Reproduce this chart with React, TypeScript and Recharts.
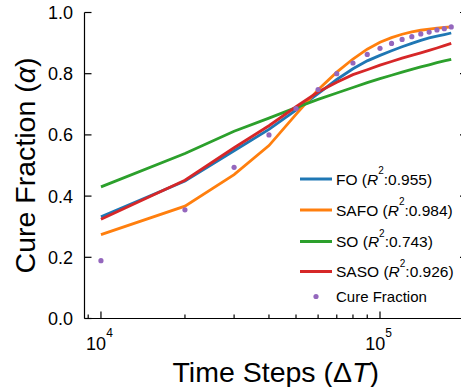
import React from 'react';
import { LineChart, Line, XAxis, YAxis, Legend } from 'recharts';

const timeSteps = [10000, 20000, 30000, 40000, 50000, 60000, 70000, 80000, 90000, 100000, 110000, 120000, 130000, 140000, 150000, 160000, 170000, 180000];
const foValues = [0.332, 0.449, 0.548, 0.618, 0.681, 0.735, 0.781, 0.816, 0.842, 0.860, 0.875, 0.888, 0.899, 0.909, 0.917, 0.923, 0.928, 0.933];
const safoValues = [0.274, 0.367, 0.470, 0.565, 0.667, 0.748, 0.805, 0.848, 0.880, 0.903, 0.918, 0.929, 0.937, 0.942, 0.946, 0.949, 0.951, 0.953];
const soValues = [0.430, 0.539, 0.612, 0.655, 0.689, 0.716, 0.737, 0.755, 0.771, 0.784, 0.795, 0.805, 0.814, 0.822, 0.829, 0.836, 0.842, 0.847];
const sasoValues = [0.324, 0.452, 0.558, 0.630, 0.692, 0.740, 0.772, 0.797, 0.813, 0.828, 0.840, 0.851, 0.860, 0.868, 0.876, 0.884, 0.892, 0.899];
const cureValues = [0.189, 0.355, 0.494, 0.600, 0.686, 0.748, 0.800, 0.835, 0.863, 0.883, 0.899, 0.912, 0.921, 0.930, 0.936, 0.943, 0.947, 0.953];

const xTicks = [9000, 10000, 20000, 30000, 40000, 50000, 60000, 70000, 80000, 90000, 100000];
const xMajorTicks = [10000, 100000];
const yTicks = [0, 0.2, 0.4, 0.6, 0.8, 1.0];

const seriesNames = ['FO', 'SAFO', 'SO', 'SASO'];
const seriesR2 = ['0.955', '0.984', '0.743', '0.926'];
const seriesKeys = ['fo', 'safo', 'so', 'saso'];
const seriesColors = ['#1f77b4', '#ff7f0e', '#2ca02c', '#d62728'];
const cureLabel = 'Cure Fraction';
const cureColor = '#9467bd';

const data = timeSteps.map((t, i) => ({
  t,
  fo: foValues[i],
  safo: safoValues[i],
  so: soValues[i],
  saso: sasoValues[i],
  cure: cureValues[i],
}));

const FONT = '"Liberation Sans", Arial, Helvetica, sans-serif';

const BottomTick = (props: any) => {
  const { x, y, payload } = props;
  const major = xMajorTicks.includes(payload.value);
  const exp = Math.round(Math.log10(payload.value));
  return (
    <g>
      <line x1={x} y1={y} x2={x} y2={y - (major ? 7 : 4)} stroke="#000" strokeWidth={1.2} />
      {major && (
        <text x={x - 1.5} y={y + 31.5} textAnchor="middle" fontSize={18} fontFamily={FONT} fill="#000">
          10<tspan dy={-13} fontSize={12}>{exp}</tspan>
        </text>
      )}
    </g>
  );
};

const TopTick = (props: any) => {
  const { x, y, payload } = props;
  const major = xMajorTicks.includes(payload.value);
  return <line x1={x} y1={y} x2={x} y2={y + (major ? 7 : 4)} stroke="#000" strokeWidth={1.2} />;
};

const LeftTick = (props: any) => {
  const { x, y, payload } = props;
  return (
    <g>
      <line x1={x} y1={y} x2={x + 7} y2={y} stroke="#000" strokeWidth={1.2} />
      <text x={x - 11.5} y={y + 6.5} textAnchor="end" fontSize={18} fontFamily={FONT} fill="#000">
        {Number(payload.value).toFixed(1)}
      </text>
    </g>
  );
};

const RightTick = (props: any) => {
  const { x, y } = props;
  return <line x1={x} y1={y} x2={x - 7} y2={y} stroke="#000" strokeWidth={1.2} />;
};

const XTitle = (props: any) => {
  const vb = props.viewBox || {};
  const cx = vb.x + vb.width / 2;
  return (
    <text x={cx} y={vb.y + 63.5} textAnchor="middle" fontSize={28.5} fontFamily={FONT} fill="#000">
      Time Steps (Δ<tspan fontStyle="italic">T</tspan>)
    </text>
  );
};

const YTitle = (props: any) => {
  const vb = props.viewBox || {};
  const cy = vb.y + vb.height / 2;
  const bx = 35;
  return (
    <text x={bx} y={cy} transform={`rotate(-90 ${bx} ${cy})`} textAnchor="middle" fontSize={28.5} fontFamily={FONT} fill="#000">
      Cure Fraction (<tspan fontStyle="italic">α</tspan>)
    </text>
  );
};

const rowY = [19, 50, 81.5, 111.5];

const LegendContent = () => (
  <svg width={170} height={150} style={{ display: 'block' }}>
    {seriesNames.map((name, i) => (
      <g key={name}>
        <line x1={4} x2={36} y1={rowY[i]} y2={rowY[i]} stroke={seriesColors[i]} strokeWidth={3} />
        <text x={40} y={rowY[i] + 5.6} fontSize={15.5} fontFamily={FONT} fill="#000">
          {name} (<tspan fontStyle="italic">R</tspan>
          <tspan dy={-10.5} fontSize={10}>2</tspan>
          <tspan dy={10.5}>:{seriesR2[i]})</tspan>
        </text>
      </g>
    ))}
    <circle cx={20} cy={136.5} r={2.6} fill={cureColor} />
    <text x={40} y={136.5 + 5.4} fontSize={15} fontFamily={FONT} fill="#000">
      {cureLabel}
    </text>
  </svg>
);

export default function App() {
  return (
    <div style={{ position: 'absolute', left: 0, top: 0, width: 461, height: 387, overflow: 'hidden', background: '#fff' }}>
      <LineChart width={475} height={387} data={data} margin={{ top: 12.5, right: 0, bottom: 0, left: 0 }}>
        <XAxis
          dataKey="t"
          type="number"
          scale="log"
          domain={[8730, 205000]}
          allowDataOverflow
          ticks={xTicks}
          interval={0}
          tick={(p: any) => <BottomTick {...p} />}
          tickLine={false}
          tickSize={0}
          tickMargin={0}
          height={68.5}
          axisLine={{ stroke: '#000', strokeWidth: 1.2 }}
          label={{ content: (p: any) => <XTitle {...p} /> }}
        />
        <XAxis
          xAxisId="top"
          orientation="top"
          dataKey="t"
          type="number"
          scale="log"
          domain={[8730, 205000]}
          allowDataOverflow
          ticks={xTicks}
          interval={0}
          tick={(p: any) => <TopTick {...p} />}
          tickLine={false}
          tickSize={0}
          tickMargin={0}
          height={0}
          axisLine={{ stroke: '#000', strokeWidth: 1.2 }}
        />
        <YAxis
          type="number"
          domain={[0, 1]}
          allowDataOverflow
          ticks={yTicks}
          interval={0}
          tick={(p: any) => <LeftTick {...p} />}
          tickLine={false}
          tickSize={0}
          tickMargin={0}
          width={84.5}
          axisLine={{ stroke: '#000', strokeWidth: 1.2 }}
          label={{ content: (p: any) => <YTitle {...p} /> }}
        />
        <YAxis
          yAxisId="right"
          orientation="right"
          type="number"
          domain={[0, 1]}
          allowDataOverflow
          ticks={yTicks}
          interval={0}
          tick={(p: any) => <RightTick {...p} />}
          tickLine={false}
          tickSize={0}
          tickMargin={0}
          width={8}
          axisLine={{ stroke: '#000', strokeWidth: 1.2 }}
        />
        {seriesKeys.map((k, i) => (
          <Line
            key={k}
            dataKey={k}
            type="linear"
            stroke={seriesColors[i]}
            strokeWidth={2.8}
            dot={false}
            activeDot={false}
            isAnimationActive={false}
          />
        ))}
        <Line
          dataKey="cure"
          type="linear"
          stroke="none"
          strokeWidth={0}
          dot={{ r: 2.6, fill: cureColor, stroke: 'none' }}
          activeDot={false}
          isAnimationActive={false}
        />
        <Legend
          layout="horizontal"
          verticalAlign="middle"
          align="center"
          wrapperStyle={{ position: 'absolute', left: 296, top: 160, width: 170, height: 150 }}
          content={() => <LegendContent />}
        />
      </LineChart>
    </div>
  );
}
